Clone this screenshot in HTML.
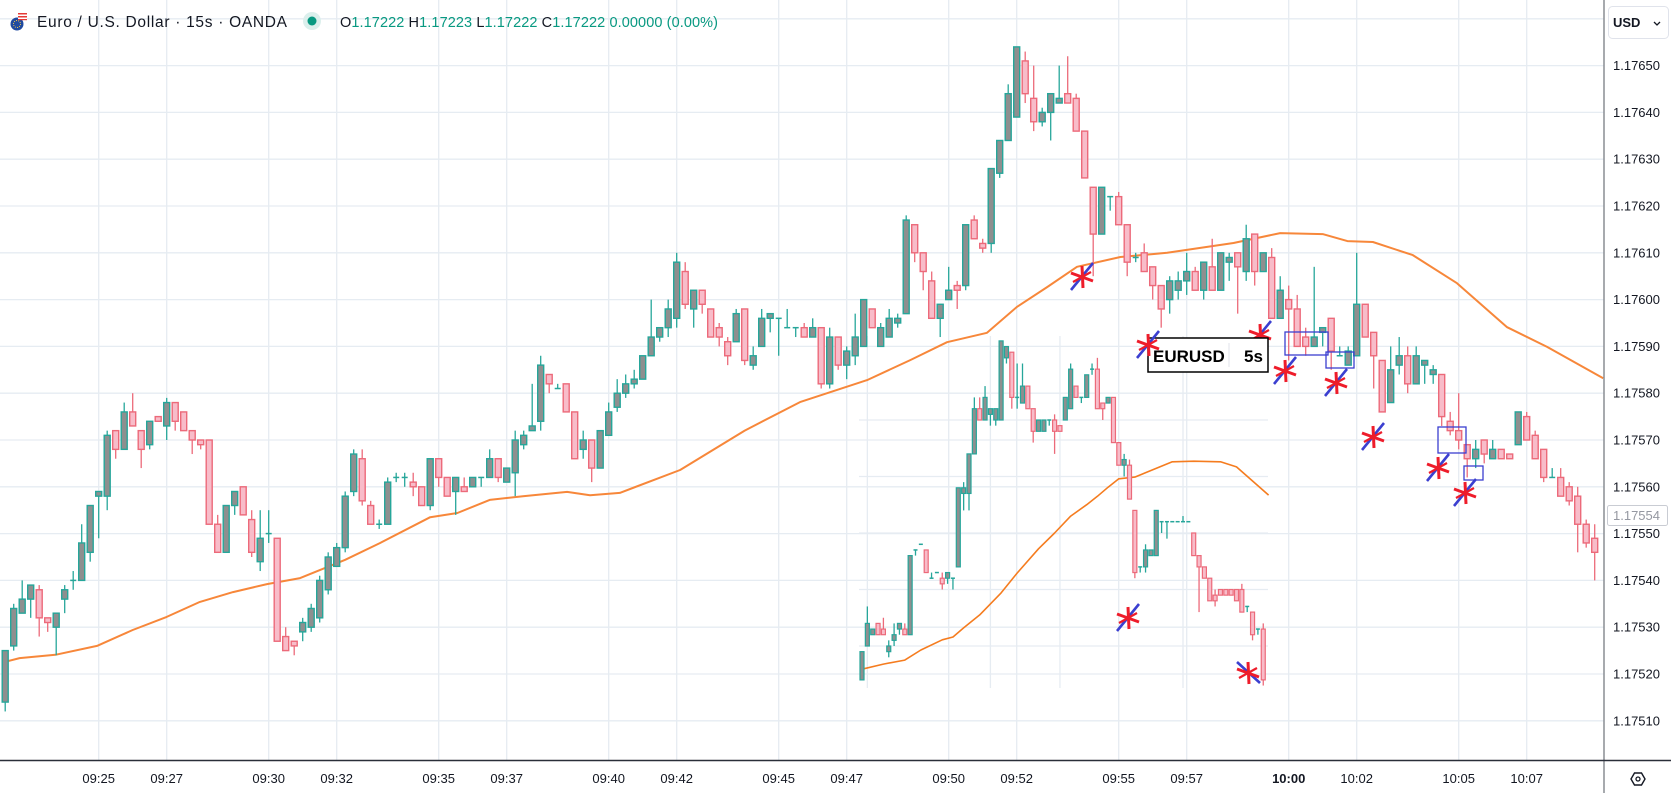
<!DOCTYPE html>
<html><head><meta charset="utf-8"><style>
html,body{margin:0;padding:0;background:#fff;}
svg{display:block;font-family:"Liberation Sans",sans-serif;}
</style></head>
<body>
<svg id="chart" width="1671" height="793" viewBox="0 0 1671 793" xmlns="http://www.w3.org/2000/svg">
<rect x="0" y="0" width="1671" height="793" fill="#ffffff"/>
<g id="grid"></g>
<g id="inset-grid"></g>
<g id="ma"></g>
<g id="candles"></g>
<g id="inset"></g>
<g id="annot"></g>
<!-- header -->
<g>
  <g>
    <circle cx="17" cy="24" r="6.5" fill="#1f4aa0"/>
    <circle cx="17" cy="24" r="3.5" fill="none" stroke="#f3c84b" stroke-width="1" stroke-dasharray="1 1.2"/>
    <rect x="18" y="13" width="9" height="7" fill="#ffffff"/>
    <rect x="18" y="13" width="9" height="1.5" fill="#e53935"/>
    <rect x="18" y="16" width="9" height="1.5" fill="#e53935"/>
    <rect x="18" y="19" width="9" height="1.2" fill="#e53935"/>
  </g>
  <text x="37" y="27" font-size="15.5" fill="#131722" textLength="250">Euro / U.S. Dollar · 15s · OANDA</text>
  <circle cx="312" cy="21" r="9" fill="#dbefec"/>
  <circle cx="312" cy="21" r="4.5" fill="#089981"/>
  <text x="340" y="27" font-size="14.5" fill="#089981" textLength="378"><tspan fill="#131722">O</tspan>1.17222 <tspan fill="#131722">H</tspan>1.17223 <tspan fill="#131722">L</tspan>1.17222 <tspan fill="#131722">C</tspan>1.17222 0.00000 (0.00%)</text>
</g>
<!-- axes frame -->
<line x1="1604" y1="0" x2="1604" y2="793" stroke="#8a8d94" stroke-width="1.5"/>
<line x1="0" y1="760.5" x2="1671" y2="760.5" stroke="#2a2e39" stroke-width="1.5"/>
<g id="yaxis"></g>
<g id="xaxis"></g>
<g>
  <rect x="1608.5" y="6.5" width="60" height="32" rx="4" fill="#ffffff" stroke="#e0e3eb"/>
  <text x="1613" y="27" font-size="13" font-weight="bold" fill="#131722">USD</text>
  <path d="M1654 22 l3 3 l3 -3" fill="none" stroke="#131722" stroke-width="1.3"/>
</g>
<g>
  <rect x="1607.5" y="505.5" width="60" height="20" rx="2" fill="#ffffff" stroke="#c9ccd3"/>
  <text x="1613" y="520" font-size="13" fill="#9598a1">1.17554</text>
</g>
<g>
  <path d="M1631 779 l3.5 -6 h7 l3.5 6 l-3.5 6 h-7 z" fill="none" stroke="#131722" stroke-width="1.4"/>
  <circle cx="1638" cy="779" r="2" fill="none" stroke="#131722" stroke-width="1.3"/>
</g>
</svg>
<script>
const NS='http://www.w3.org/2000/svg';
// ---------- main chart data (15s candles, first candle 09:22:15) ----------
const startIndex = -11;
const openP = [1.17514,1.17526,1.17533,1.17536,1.17538,1.17532,1.17530,1.17536,1.17540,1.17540,1.17546,
1.17558,1.17558,1.17572,1.17568,1.17576,1.17572,1.17569,1.17575,1.17573,1.17578,
1.17576,1.17572,1.17570,1.17570,1.17552,1.17546,1.17556,1.17560,1.17553,1.17544,
1.17550,1.17549,1.17528,1.17527,1.17529,1.17530,1.17532,1.17538,1.17543,1.17547,
1.17559,1.17566,1.17556,1.17552,1.17552,1.17562,1.17562,1.17561,1.17560,1.17556,
1.17566,1.17562,1.17559,1.17560,1.17560,1.17562,1.17562,1.17566,1.17561,1.17563,
1.17569,1.17572,1.17574,1.17584,1.17581,1.17582,1.17576,1.17568,1.17570,1.17564,
1.17571,1.17577,1.17580,1.17582,1.17583,1.17588,1.17592,1.17594,1.17596,1.17606,
1.17598,1.17602,1.17598,1.17594,1.17591,1.17591,1.17598,1.17586,1.17590,1.17596,
1.17596,1.17594,1.17594,1.17594,1.17592,1.17594,1.17582,1.17592,1.17586,1.17588,
1.17590,1.17598,1.17590,1.17592,1.17595,1.17597,1.17616,1.17610,1.17604,1.17596,
1.17600,1.17603,1.17603,1.17617,1.17612,1.17612,1.17627,1.17634,1.17639,1.17651,
1.17643,1.17638,1.17640,1.17642,1.17644,1.17643,1.17636,1.17624,1.17614,1.17622,
1.17622,1.17616,1.17609,1.17610,1.17607,1.17603,1.17600,1.17602,1.17604,1.17606,
1.17602,1.17607,1.17602,1.17608,1.17610,1.17606,1.17614,1.17606,1.17609,1.17596,
1.17600,1.17598,1.17592,1.17590,1.17593,1.17596,1.17588,1.17586,1.17588,1.17599,
1.17593,1.17587,1.17578,1.17586,1.17588,1.17582,1.17586,1.17584,1.17584,1.17574,
1.17572,1.17569,1.17566,1.17570,1.17566,1.17568,1.17567,1.17569,1.17575,1.17571,
1.17568,1.17562,1.17562,1.17560,1.17558,1.17552,1.17549];
const highP = [1.17525,1.17535,1.17540,1.17539,1.17539,1.17532,1.17533,1.17539,1.17542,1.17552,1.17556,
1.17559,1.17572,1.17572,1.17578,1.17580,1.17572,1.17574,1.17575,1.17579,1.17578,
1.17576,1.17572,1.17570,1.17570,1.17554,1.17556,1.17559,1.17560,1.17555,1.17555,
1.17555,1.17549,1.17530,1.17527,1.17532,1.17535,1.17541,1.17546,1.17548,1.17559,
1.17568,1.17568,1.17557,1.17553,1.17562,1.17563,1.17563,1.17563,1.17560,1.17566,
1.17566,1.17562,1.17562,1.17562,1.17562,1.17562,1.17568,1.17566,1.17564,1.17572,
1.17572,1.17582,1.17588,1.17584,1.17582,1.17582,1.17576,1.17572,1.17570,1.17572,
1.17578,1.17583,1.17584,1.17585,1.17588,1.17600,1.17594,1.17600,1.17610,1.17608,
1.17602,1.17602,1.17598,1.17595,1.17592,1.17598,1.17598,1.17590,1.17598,1.17597,
1.17596,1.17598,1.17594,1.17595,1.17596,1.17594,1.17594,1.17592,1.17590,1.17597,
1.17600,1.17598,1.17595,1.17598,1.17597,1.17618,1.17616,1.17610,1.17606,1.17599,
1.17607,1.17604,1.17616,1.17618,1.17613,1.17628,1.17634,1.17646,1.17654,1.17653,
1.17650,1.17641,1.17644,1.17650,1.17652,1.17644,1.17636,1.17624,1.17624,1.17622,
1.17623,1.17616,1.17610,1.17612,1.17607,1.17603,1.17605,1.17606,1.17610,1.17607,
1.17608,1.17613,1.17610,1.17610,1.17610,1.17616,1.17614,1.17610,1.17611,1.17605,
1.17603,1.17601,1.17594,1.17607,1.17594,1.17596,1.17590,1.17590,1.17610,1.17599,
1.17593,1.17587,1.17590,1.17592,1.17590,1.17590,1.17587,1.17586,1.17584,1.17576,
1.17580,1.17569,1.17570,1.17570,1.17570,1.17568,1.17567,1.17576,1.17576,1.17572,
1.17568,1.17564,1.17564,1.17561,1.17560,1.17553,1.17552];
const lowP = [1.17512,1.17525,1.17533,1.17532,1.17528,1.17529,1.17524,1.17533,1.17538,1.17540,1.17544,
1.17549,1.17555,1.17566,1.17568,1.17573,1.17564,1.17568,1.17574,1.17570,1.17572,
1.17572,1.17567,1.17568,1.17552,1.17546,1.17546,1.17554,1.17554,1.17545,1.17542,
1.17548,1.17527,1.17525,1.17524,1.17527,1.17529,1.17531,1.17537,1.17543,1.17546,
1.17558,1.17556,1.17552,1.17551,1.17552,1.17561,1.17560,1.17558,1.17556,1.17555,
1.17560,1.17558,1.17554,1.17559,1.17560,1.17560,1.17562,1.17561,1.17561,1.17558,
1.17568,1.17572,1.17572,1.17580,1.17581,1.17576,1.17566,1.17566,1.17561,1.17564,
1.17571,1.17576,1.17579,1.17581,1.17583,1.17588,1.17591,1.17592,1.17594,1.17598,
1.17594,1.17597,1.17592,1.17590,1.17586,1.17591,1.17586,1.17585,1.17590,1.17593,
1.17588,1.17594,1.17592,1.17592,1.17592,1.17581,1.17581,1.17585,1.17583,1.17586,
1.17590,1.17594,1.17590,1.17592,1.17594,1.17597,1.17608,1.17602,1.17596,1.17592,
1.17600,1.17598,1.17602,1.17613,1.17610,1.17610,1.17626,1.17634,1.17639,1.17642,
1.17636,1.17637,1.17634,1.17642,1.17642,1.17636,1.17626,1.17605,1.17614,1.17619,
1.17616,1.17605,1.17608,1.17606,1.17600,1.17594,1.17597,1.17600,1.17601,1.17602,
1.17600,1.17602,1.17602,1.17604,1.17597,1.17604,1.17603,1.17606,1.17596,1.17596,
1.17587,1.17590,1.17588,1.17590,1.17590,1.17585,1.17588,1.17586,1.17588,1.17592,
1.17581,1.17576,1.17578,1.17584,1.17580,1.17582,1.17582,1.17582,1.17573,1.17571,
1.17568,1.17562,1.17564,1.17565,1.17566,1.17566,1.17566,1.17569,1.17570,1.17566,
1.17561,1.17562,1.17558,1.17556,1.17546,1.17547,1.17540];
const closeP = [1.17525,1.17534,1.17536,1.17539,1.17532,1.17531,1.17533,1.17538,1.17540,1.17548,1.17556,
1.17559,1.17571,1.17568,1.17576,1.17573,1.17568,1.17574,1.17574,1.17578,1.17574,
1.17572,1.17570,1.17569,1.17552,1.17546,1.17556,1.17559,1.17554,1.17546,1.17549,
1.17550,1.17527,1.17525,1.17526,1.17531,1.17534,1.17540,1.17545,1.17547,1.17558,
1.17567,1.17557,1.17552,1.17552,1.17561,1.17562,1.17562,1.17560,1.17556,1.17566,
1.17562,1.17558,1.17562,1.17559,1.17562,1.17562,1.17566,1.17562,1.17564,1.17570,
1.17571,1.17573,1.17586,1.17582,1.17581,1.17576,1.17566,1.17570,1.17564,1.17572,
1.17576,1.17580,1.17582,1.17583,1.17588,1.17592,1.17594,1.17598,1.17608,1.17599,
1.17602,1.17599,1.17592,1.17592,1.17588,1.17597,1.17587,1.17588,1.17596,1.17597,
1.17596,1.17594,1.17594,1.17592,1.17594,1.17582,1.17592,1.17586,1.17589,1.17592,
1.17600,1.17594,1.17594,1.17596,1.17596,1.17617,1.17610,1.17606,1.17596,1.17599,
1.17602,1.17602,1.17616,1.17613,1.17611,1.17628,1.17634,1.17644,1.17654,1.17644,
1.17638,1.17640,1.17644,1.17643,1.17642,1.17636,1.17626,1.17614,1.17624,1.17622,
1.17616,1.17608,1.17609,1.17606,1.17603,1.17598,1.17604,1.17604,1.17606,1.17602,
1.17608,1.17602,1.17610,1.17609,1.17607,1.17613,1.17606,1.17610,1.17596,1.17602,
1.17598,1.17590,1.17590,1.17592,1.17594,1.17589,1.17588,1.17589,1.17599,1.17592,
1.17588,1.17576,1.17585,1.17588,1.17582,1.17588,1.17587,1.17585,1.17575,1.17572,
1.17570,1.17566,1.17568,1.17567,1.17568,1.17566,1.17566,1.17576,1.17570,1.17566,
1.17562,1.17562,1.17558,1.17557,1.17552,1.17548,1.17546];
// moving average knots (candle index, value)
const maIndex = [-11,-9.3,-5.1,-0.2,4,8,11.9,15.8,19.8,23.7,29,33.1,39,42.2,46,49.9,55.1,57.8,61.3,68.4,76,82.5,90.4,95.5,99.8,104.5,108,111.6,115.1,120.2,125.7,133.5,139,144,146.9,149.9,154.6,159.8,165.7,170.4,177];
const maValue = [1.175226,1.175234,1.175241,1.17526,1.175294,1.175322,1.175354,1.175375,1.175392,1.175405,1.175444,1.17548,1.175535,1.175544,1.175572,1.17558,1.175589,1.175582,1.175587,1.175636,1.17572,1.175781,1.175828,1.175871,1.175909,1.175929,1.175984,1.176027,1.17607,1.176091,1.1761,1.176121,1.176142,1.17614,1.176125,1.176123,1.176095,1.176035,1.175941,1.175899,1.175832];
const priceTicks = [1.1765,1.1764,1.1763,1.1762,1.1761,1.176,1.1759,1.1758,1.1757,1.1756,1.1755,1.1754,1.1753,1.1752,1.1751];
const priceTickLabels = ['1.17650','1.17640','1.17630','1.17620','1.17610','1.17600','1.17590','1.17580','1.17570','1.17560','1.17550','1.17540','1.17530','1.17520','1.17510'];
const gridOnlyTicks = [1.1766];
const timeTickMinutes = [0,2,5,7,10,12,15,17,20,22,25,27,30,32,35,37,40,42];
const timeTickLabels = ['09:25','09:27','09:30','09:32','09:35','09:37','09:40','09:42','09:45','09:47','09:50','09:52','09:55','09:57','10:00','10:02','10:05','10:07'];
// ---------- inset (EURUSD 5s) data ----------
const insetOpen = [1.17524,1.17530,1.17532,1.17534,1.17533,1.17529,1.17531,1.17533,1.17533,1.17532,1.17547,1.17548,1.17547,1.17542,1.17543,1.17542,1.17542,1.17542,1.17544,1.17557,1.17557,1.17564,1.17572,1.17570,1.17571,1.17570,1.17570,1.17581,1.17582,1.17574,1.17573,1.17576,1.17572,1.17568,1.17568,1.17570,1.17570,1.17569,1.17570,1.17572,1.17576,1.17574,1.17574,1.17579,1.17579,1.17573,1.17573,1.17574,1.17566,1.17562,1.17562,1.17554,1.17544,1.17544,1.17546,1.17546,1.17552,1.17552,1.17552,1.17552,1.17552,1.17552,1.17550,1.17546,1.17544,1.17542,1.17539,1.17540,1.17540,1.17540,1.17540,1.17540,1.17537,1.17536,1.17533,1.17533];
const insetHigh = [1.17529,1.17537,1.17533,1.17534,1.17535,1.17531,1.17534,1.17534,1.17534,1.17546,1.17547,1.17548,1.17547,1.17543,1.17543,1.17543,1.17543,1.17542,1.17558,1.17559,1.17564,1.17574,1.17574,1.17576,1.17572,1.17572,1.17584,1.17583,1.17582,1.17580,1.17580,1.17576,1.17572,1.17570,1.17570,1.17570,1.17571,1.17569,1.17574,1.17580,1.17576,1.17574,1.17578,1.17580,1.17581,1.17573,1.17574,1.17574,1.17566,1.17564,1.17563,1.17554,1.17544,1.17548,1.17547,1.17554,1.17552,1.17552,1.17552,1.17552,1.17553,1.17552,1.17550,1.17546,1.17544,1.17542,1.17540,1.17540,1.17540,1.17540,1.17540,1.17541,1.17537,1.17536,1.17533,1.17534];
const insetLow = [1.17524,1.17530,1.17532,1.17532,1.17532,1.17528,1.17530,1.17532,1.17532,1.17532,1.17546,1.17548,1.17543,1.17542,1.17543,1.17540,1.17541,1.17540,1.17544,1.17554,1.17554,1.17564,1.17570,1.17570,1.17569,1.17569,1.17570,1.17580,1.17572,1.17572,1.17573,1.17572,1.17566,1.17568,1.17568,1.17569,1.17564,1.17568,1.17570,1.17572,1.17574,1.17573,1.17574,1.17578,1.17572,1.17570,1.17573,1.17566,1.17562,1.17560,1.17556,1.17542,1.17543,1.17543,1.17546,1.17546,1.17550,1.17549,1.17552,1.17552,1.17552,1.17552,1.17546,1.17536,1.17542,1.17538,1.17537,1.17539,1.17539,1.17539,1.17538,1.17536,1.17536,1.17531,1.17532,1.17523];
const insetClose = [1.17529,1.17534,1.17533,1.17532,1.17532,1.17530,1.17532,1.17534,1.17532,1.17546,1.17547,1.17548,1.17543,1.17542,1.17543,1.17541,1.17543,1.17542,1.17558,1.17558,1.17564,1.17572,1.17570,1.17574,1.17572,1.17572,1.17584,1.17583,1.17574,1.17574,1.17576,1.17572,1.17568,1.17570,1.17570,1.17570,1.17568,1.17568,1.17574,1.17579,1.17574,1.17574,1.17578,1.17579,1.17572,1.17572,1.17574,1.17566,1.17562,1.17563,1.17556,1.17543,1.17544,1.17547,1.17547,1.17554,1.17552,1.17552,1.17552,1.17552,1.17552,1.17552,1.17546,1.17544,1.17542,1.17538,1.17538,1.17539,1.17539,1.17539,1.17538,1.17536,1.17537,1.17532,1.17533,1.17524];
const insetMaIndex = [0,4,8,11,15,17,19,22,26,29,33,36,39,42,44,46,48,51,58,62,67,70,76];
const insetMaValue = [1.175259,1.175268,1.175275,1.175293,1.175311,1.175316,1.175332,1.175355,1.175394,1.175429,1.175472,1.1755,1.17553,1.17555,1.175565,1.175581,1.175596,1.175599,1.175626,1.175627,1.175626,1.175617,1.175567];
const insetGridValues = [1.17570,1.17560,1.17550,1.17540,1.17530];
const insetGridIndex = [1,24,37,60];

// ---------- scales ----------
function xScale(k){ return 98.7 + k*8.5; }
function yScale(p){ return 206 + (1.1762 - p)*468000; }
function xInset(i){ return 862 + i*5.35; }
function yInset(p){ return 646 - (p - 1.1753)*565000; }

function mk(tag, attrs, parent){
  const e=document.createElementNS(NS,tag);
  for(const a in attrs) e.setAttribute(a, attrs[a]);
  parent.appendChild(e);
  return e;
}
const gGrid=document.getElementById('grid');
const gIG=document.getElementById('inset-grid');
const gMA=document.getElementById('ma');
const gC=document.getElementById('candles');
const gI=document.getElementById('inset');
const gA=document.getElementById('annot');
const gY=document.getElementById('yaxis');
const gX=document.getElementById('xaxis');
const GRID='#e6ecf2';

// grid + price axis
priceTicks.concat(gridOnlyTicks).forEach(function(p){
  const y=yScale(p);
  const ln=mk('line',{x1:0,y1:y,x2:1604,y2:y,stroke:GRID,'stroke-width':1.3},gGrid);
  
  
});
priceTicks.forEach(function(p,i){
  const t=mk('text',{x:1613,y:yScale(p)+4.5,'font-size':13,fill:'#131722'},gY);
  t.textContent=priceTickLabels[i];
  
  
});
timeTickMinutes.forEach(function(m,i){
  const x=xScale(m*4);
  const ln=mk('line',{x1:x,y1:0,x2:x,y2:760,stroke:GRID,'stroke-width':1.3},gGrid);
  
  
  const t=mk('text',{x:x,y:783,'font-size':13,fill:'#131722','text-anchor':'middle'},gX);
  if(timeTickLabels[i]==='10:00') t.setAttribute('font-weight','bold');
  t.textContent=timeTickLabels[i];
  
  
});

// inset gridlines
insetGridValues.forEach(function(p){
  const y=yInset(p);
  const ln=mk('line',{x1:859,y1:y,x2:1268,y2:y,stroke:GRID,'stroke-width':1.3},gIG);
  
  
});
insetGridIndex.forEach(function(i){
  const x=xInset(i);
  const ln=mk('line',{x1:x,y1:336,x2:x,y2:688,stroke:GRID,'stroke-width':1.3},gIG);
  
  
});

// moving average main
function lineFrom(idx, vals, xs, ys){
  return idx.map(function(k,i){ return (i?'L':'M')+xs(k).toFixed(1)+' '+ys(vals[i]).toFixed(1); }).join(' ');
}
const maPath=mk('path',{d:lineFrom(maIndex,maValue,xScale,yScale),fill:'none',stroke:'#f7873a','stroke-width':2,'stroke-linejoin':'round'},gMA);


const ima=mk('path',{d:lineFrom(insetMaIndex,insetMaValue,xInset,yInset),fill:'none',stroke:'#f57c1f','stroke-width':1.6,'stroke-linejoin':'round'},gMA);



// candles
const UP_B='#26a69a', UP_F='#8e8f8f', DN_B='#ec6a7a', DN_F='#f8bcc9';
function drawCandle(parent,x,o,h,l,c,ys,w,sw,name){
  const up=c>=o;
  const g=mk('g',{},parent);
  
  
  const col=up?UP_B:DN_B;
  mk('line',{x1:x,y1:ys(h),x2:x,y2:ys(l),stroke:col,'stroke-width':1.3},g);
  const yt=ys(Math.max(o,c)), yb=ys(Math.min(o,c));
  if(Math.abs(yb-yt)<1.2){
    mk('line',{x1:x-w/2,y1:yt,x2:x+w/2,y2:yt,stroke:UP_B,'stroke-width':1.5},g);
  } else {
    mk('rect',{x:x-w/2,y:yt,width:w,height:yb-yt,fill:up?UP_F:DN_F,stroke:col,'stroke-width':sw},g);
  }
}
openP.forEach(function(o,i){
  const k=startIndex+i;
  drawCandle(gC,xScale(k),o,highP[i],lowP[i],closeP[i],yScale,6,1.4,'candle');
});
insetOpen.forEach(function(o,i){
  drawCandle(gI,xInset(i),o,insetHigh[i],insetLow[i],insetClose[i],yInset,4,1.2,'inset-candle');
});

// annotations: markers (red star + blue slash)
const markers=[[1082,277,1],[1148,345,1],[1128,618,1],[1248,673,-1],[1260,335,1],[1285,371,1],[1336,383,1],[1373,437,1],[1438,468,1],[1465,493,1]];
markers.forEach(function(m){
  const g=mk('g',{},gA);
  
  
  const cx=m[0], cy=m[1];
  if(m[2]>0) mk('line',{x1:cx-11,y1:cy+13,x2:cx+11,y2:cy-14,stroke:'#3b3fd0','stroke-width':2.6},g);
  else mk('line',{x1:cx-11,y1:cy-11,x2:cx+12,y2:cy+10,stroke:'#3b3fd0','stroke-width':2.6},g);
  mk('line',{x1:cx,y1:cy-11,x2:cx+1,y2:cy+11,stroke:'#ee1c2a','stroke-width':3},g);
  mk('line',{x1:cx-11,y1:cy-4,x2:cx+11,y2:cy+4,stroke:'#ee1c2a','stroke-width':3},g);
  mk('line',{x1:cx-9,y1:cy+5,x2:cx+9,y2:cy-5,stroke:'#ee1c2a','stroke-width':2.2},g);
});
// blue rectangles
const boxes=[[1285,332,43,23],[1326,352,28,16],[1438,427,28,26],[1464,466,19,14]];
boxes.forEach(function(b){
  const r=mk('rect',{x:b[0],y:b[1],width:b[2],height:b[3],fill:'none',stroke:'#3b3fd0','stroke-width':1.3},gA);
  
  
});
// inset label box
const lb=mk('g',{},gA);


mk('rect',{x:1148,y:338,width:120,height:34,fill:'#ffffff',stroke:'#000000','stroke-width':1.5},lb);
mk('line',{x1:1229,y1:343,x2:1229,y2:367,stroke:'#e0e3eb','stroke-width':1},lb);
const t1=mk('text',{x:1153,y:362,'font-size':17,'font-weight':'bold',fill:'#000'},lb);
t1.textContent='EURUSD';
const t2=mk('text',{x:1244,y:362,'font-size':17,'font-weight':'bold',fill:'#000'},lb);
t2.textContent='5s';
// redraw markers that sit over the label box
gA.appendChild(gA.children[1]);
gA.appendChild(gA.children[4]);
</script>
</body></html>
